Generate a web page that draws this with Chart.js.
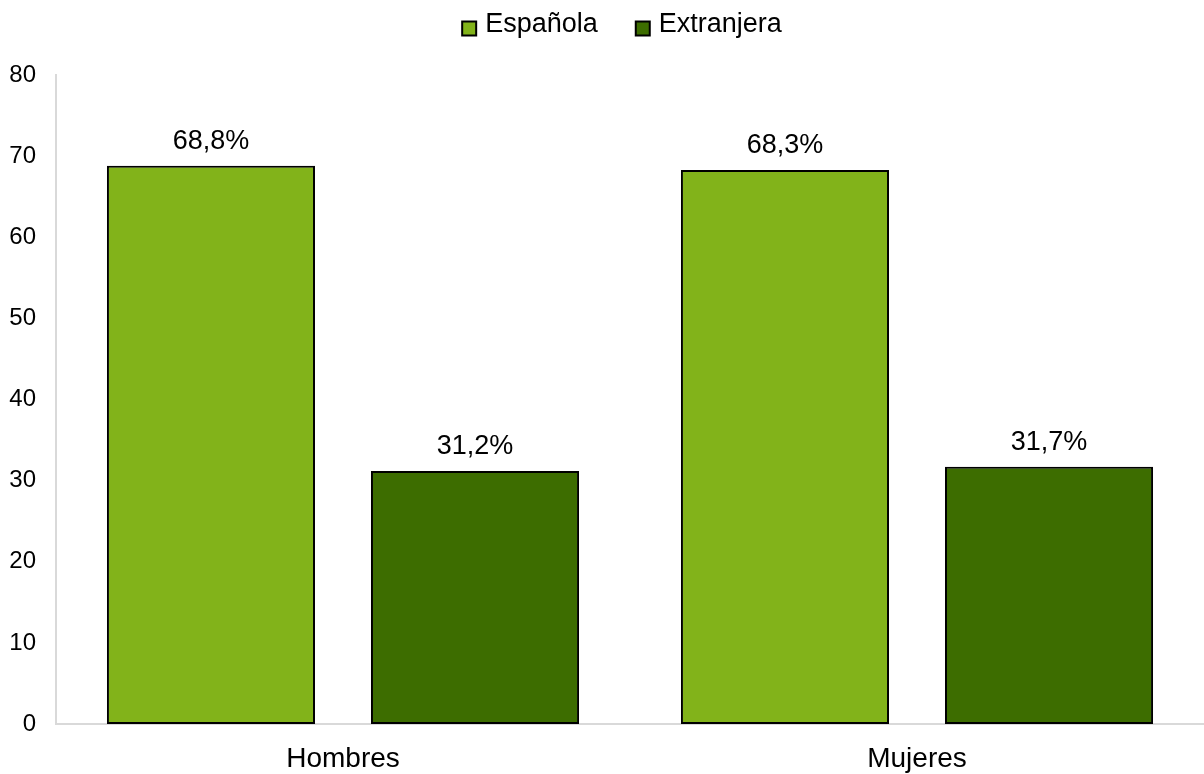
<!DOCTYPE html>
<html>
<head>
<meta charset="utf-8">
<script src="https://cdn.jsdelivr.net/npm/chart.js@4/dist/chart.umd.min.js"></script>
<style>
html,body{margin:0;padding:0;background:#fff;}
#wrap{width:1204px;height:774px;position:relative;}
</style>
</head>
<body>
<div id="wrap"><canvas id="c" width="1204" height="774"></canvas></div>
<script>
const categories = ["Hombres", "Mujeres"];
const espanola = [68.8, 68.3];
const extranjera = [31.2, 31.7];
const seriesNames = ["Española", "Extranjera"];
const yTicks = [0, 10, 20, 30, 40, 50, 60, 70, 80];

const FONT = "'Liberation Sans', Arial, sans-serif";

const labelPlugin = {
  id: 'barLabels',
  afterDatasetsDraw(chart) {
    const ctx = chart.ctx;
    ctx.save();
    ctx.font = "27px " + FONT;
    ctx.fillStyle = "#000";
    ctx.textAlign = "center";
    ctx.textBaseline = "alphabetic";
    chart.data.datasets.forEach((ds, i) => {
      const meta = chart.getDatasetMeta(i);
      meta.data.forEach((bar, j) => {
        const txt = ds.data[j].toFixed(1).replace('.', ',') + '%';
        ctx.fillText(txt, bar.x, bar.y - 17);
      });
    });
    ctx.restore();
  }
};

const legendPlugin = {
  id: 'customLegend',
  afterDraw(chart) {
    const ctx = chart.ctx;
    ctx.save();
    ctx.font = "27px " + FONT;
    ctx.textBaseline = "alphabetic";
    ctx.textAlign = "left";
    const box = 14, gapText = 9, gapItem = 38;
    const items = chart.data.datasets.map(ds => ({label: ds.label, color: ds.backgroundColor, w: ctx.measureText(ds.label).width}));
    let total = 0;
    items.forEach((it, i) => { total += box + gapText + it.w + (i < items.length - 1 ? gapItem : 0); });
    let x = 622 - total / 2;
    items.forEach(it => {
      ctx.fillStyle = it.color;
      ctx.fillRect(x, 21.5, box, box);
      ctx.strokeStyle = '#000';
      ctx.lineWidth = 2;
      ctx.strokeRect(x, 21.5, box, box);
      ctx.fillStyle = '#000';
      ctx.fillText(it.label, x + box + gapText, 32);
      x += box + gapText + it.w + gapItem;
    });
    ctx.restore();
  }
};

new Chart(document.getElementById('c'), {
  type: 'bar',
  data: {
    labels: categories,
    datasets: [
      {label: seriesNames[0], data: espanola, backgroundColor: '#82B31A', borderColor: '#000', borderWidth: 2, borderSkipped: false, categoryPercentage: 0.92, barPercentage: 0.788},
      {label: seriesNames[1], data: extranjera, backgroundColor: '#3D6D00', borderColor: '#000', borderWidth: 2, borderSkipped: false, categoryPercentage: 0.92, barPercentage: 0.788}
    ]
  },
  options: {
    responsive: false,
    animation: false,
    devicePixelRatio: 1,
    layout: {padding: {left: 0, right: 0, top: 75, bottom: 0}},
    plugins: {
      legend: {display: false},
      tooltip: {enabled: false}
    },
    scales: {
      x: {
        grid: {display: false, drawTicks: false},
        border: {display: true, color: '#D9D9D9', width: 2},
        ticks: {font: {family: FONT, size: 28}, color: '#000', padding: 18},
        afterFit(s) { s.height = 50; }
      },
      y: {
        min: 0, max: 80,
        afterBuildTicks(s) { s.ticks = yTicks.map(v => ({value: v})); },
        grid: {display: false, drawTicks: false},
        border: {display: true, color: '#D9D9D9', width: 2},
        ticks: {font: {family: FONT, size: 24}, color: '#000', padding: 20},
        afterFit(s) { s.width = 56; }
      }
    }
  },
  plugins: [labelPlugin, legendPlugin]
});
</script>
</body>
</html>
